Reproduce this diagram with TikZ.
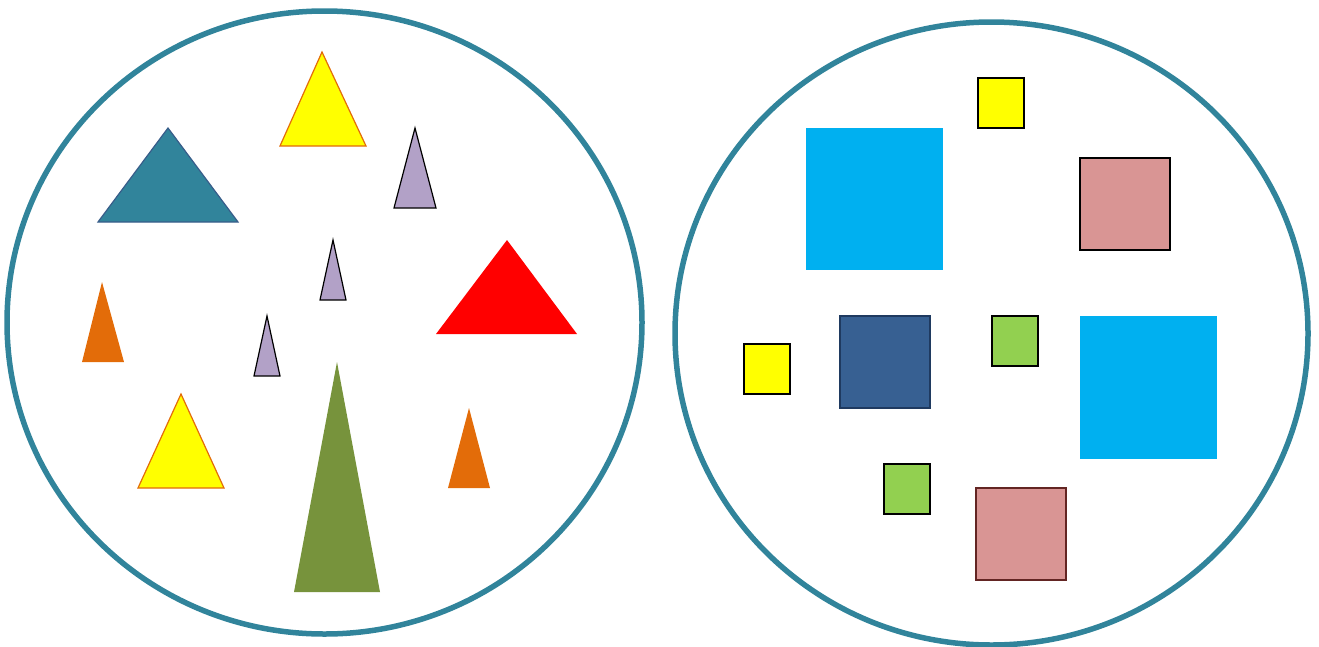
\documentclass[tikz,border=0pt]{standalone}
\begin{document}
\begin{tikzpicture}[x=1pt,y=-1pt,
  ring/.style={draw=ringc,line width=5.5pt},
  tri/.style={line width=1.2pt,line join=miter},
  sq/.style={line width=1.5pt}]
\definecolor{ringc}{HTML}{31849B}
\definecolor{tealf}{HTML}{31849B}
\definecolor{tealb}{HTML}{385D8A}
\definecolor{orangec}{HTML}{E36C09}
\definecolor{lilac}{HTML}{B2A1C7}
\definecolor{olive}{HTML}{77933C}
\definecolor{cyanc}{HTML}{00B0F0}
\definecolor{pinkc}{HTML}{D99594}
\definecolor{navyc}{HTML}{376092}
\definecolor{navyb}{HTML}{1F3A60}
\definecolor{limec}{HTML}{92D050}
\definecolor{darkred}{HTML}{632523}
\definecolor{yel}{HTML}{FFFF00}
\definecolor{redc}{HTML}{FF0000}
\useasboundingbox (0,0) rectangle (1319,646);
% rings
\draw[ring] (324.5,322.5) ellipse [x radius=317.5, y radius=311.5];
\draw[ring] (991.5,333.5) ellipse [x radius=316.5, y radius=311.5];
% triangles
\filldraw[tri,fill=tealf,draw=tealb] (168,128) -- (238,222) -- (98,222) -- cycle;
\filldraw[tri,fill=yel,draw=orangec] (322,52) -- (366,146) -- (280,146) -- cycle;
\filldraw[tri,fill=lilac,draw=black] (415,128) -- (436,208) -- (394,208) -- cycle;
\filldraw[tri,fill=lilac,draw=black] (333,240) -- (346,300) -- (320,300) -- cycle;
\fill[redc] (507,240) -- (577,334) -- (436,334) -- cycle;
\fill[orangec] (102,282) -- (124,362) -- (82,362) -- cycle;
\filldraw[tri,fill=lilac,draw=black] (267,316) -- (280,376) -- (254,376) -- cycle;
\filldraw[tri,fill=yel,draw=orangec] (181,394) -- (224,488) -- (138,488) -- cycle;
\fill[olive] (337,362) -- (380,592) -- (294,592) -- cycle;
\fill[orangec] (469,408) -- (490,488) -- (448,488) -- cycle;
% squares
\fill[cyanc] (806,128) rectangle (943,270);
\filldraw[sq,fill=yel,draw=black] (978,78) rectangle (1024,128);
\filldraw[sq,fill=pinkc,draw=black] (1080,158) rectangle (1170,250);
\filldraw[sq,fill=yel,draw=black] (744,344) rectangle (790,394);
\filldraw[sq,fill=navyc,draw=navyb] (840,316) rectangle (930,408);
\filldraw[sq,fill=limec,draw=black] (992,316) rectangle (1038,366);
\fill[cyanc] (1080,316) rectangle (1217,459);
\filldraw[sq,fill=limec,draw=black] (884,464) rectangle (930,514);
\filldraw[sq,fill=pinkc,draw=darkred] (976,488) rectangle (1066,580);
\end{tikzpicture}
\end{document}
